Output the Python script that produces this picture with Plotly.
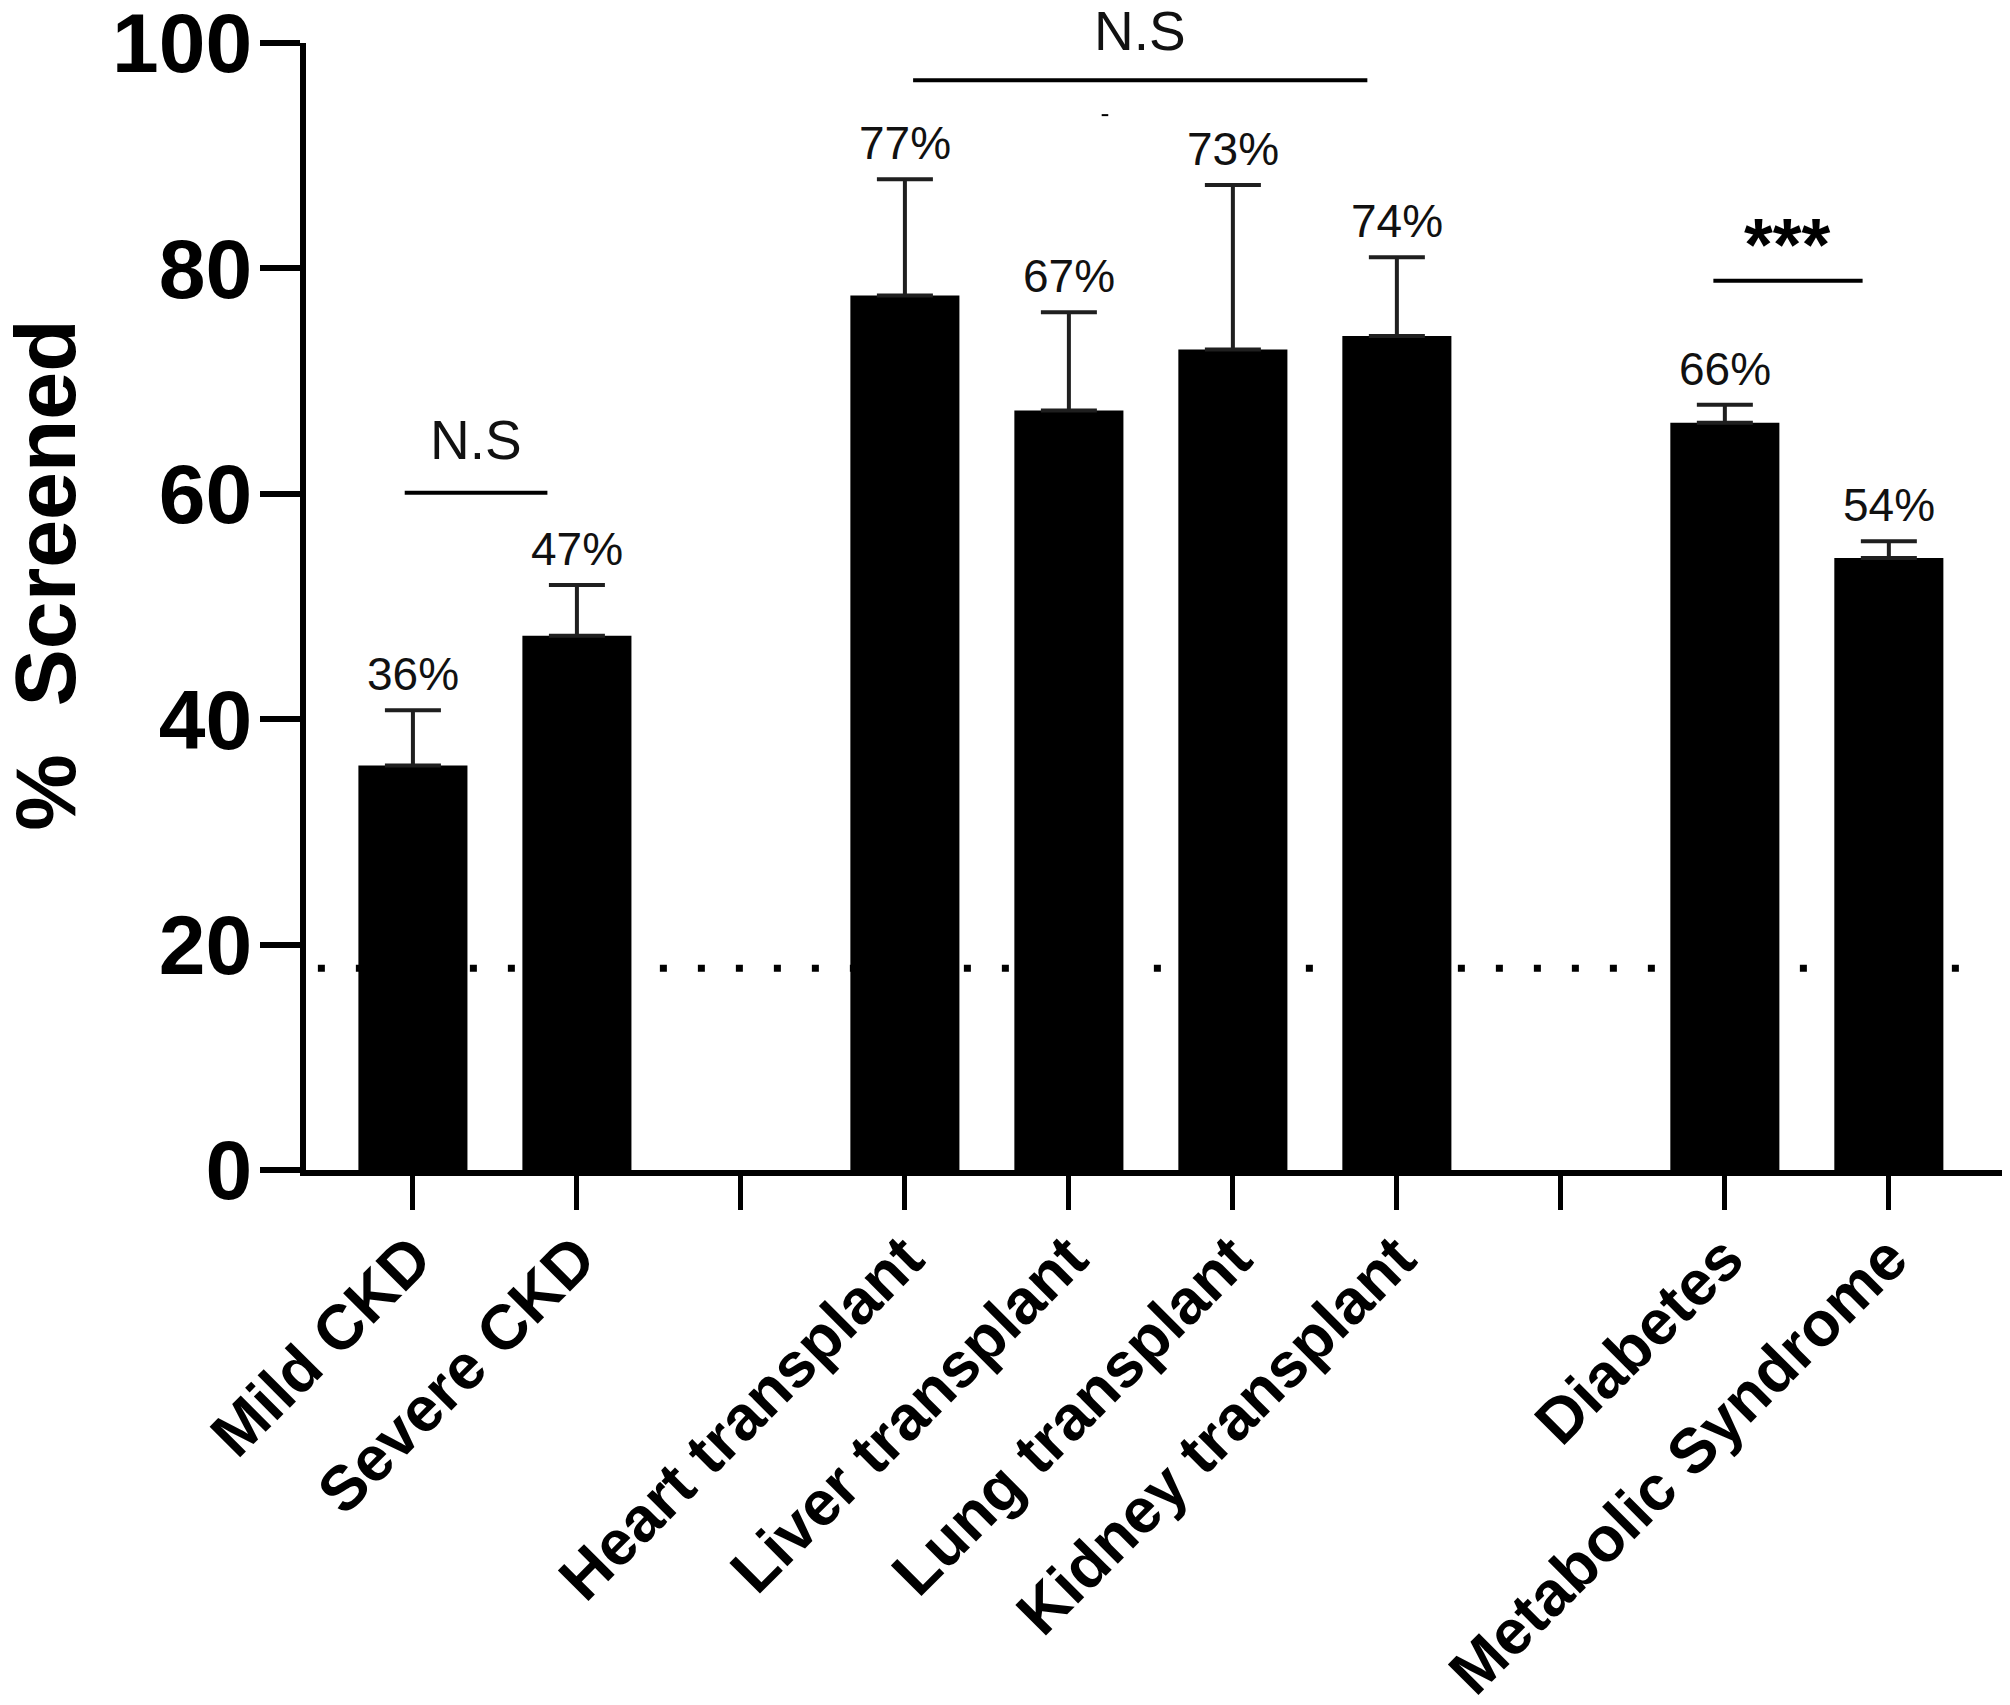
import plotly.graph_objects as go

# ---- data ----
tick_labels = ["Mild CKD", "Severe CKD", "", "Heart transplant", "Liver transplant",
               "Lung transplant", "Kidney transplant", "", "Diabetes", "Metabolic Syndrome"]
values = [35.9, 47.4, None, 77.6, 67.4, 72.8, 74.0, None, 66.3, 54.3]
errors = [4.9, 4.5, None, 10.3, 8.7, 14.6, 7.0, None, 1.6, 1.5]
pct_labels = ["36%", "47%", "", "77%", "67%", "73%", "74%", "", "66%", "54%"]
y_ticks = [0, 20, 40, 60, 80, 100]
reference_level = 17.9
# significance brackets
sig_start = [-0.05, 3.05, 7.93]
sig_end = [0.82, 5.82, 8.84]
sig_y = [60.1, 96.7, 78.9]
sig_text = ["N.S", "N.S", "***"]
sig_text_y = [62.0, 98.3, 80.0]

FONT = "Liberation Sans, Arial, sans-serif"
xpos = list(range(len(tick_labels)))

fig = go.Figure()
fig.add_trace(go.Bar(
    x=xpos, y=values,
    marker=dict(color="black", line=dict(width=0)),
    error_y=dict(type="data", array=errors, arrayminus=[0 if e is not None else None for e in errors],
                 symmetric=False, color="#1f1f1f", thickness=4, width=28),
    width=0.665,
    cliponaxis=False,
    showlegend=False,
))

annotations = []
for x, v, e, t in zip(xpos, values, errors, pct_labels):
    if v is None:
        continue
    annotations.append(dict(x=x, y=v + e, text=t, showarrow=False, xanchor="center",
                            yanchor="bottom", yshift=8,
                            font=dict(family=FONT, size=46, color="#111111")))

shapes = [dict(type="line", xref="paper", yref="y", x0=0.007, x1=0.977,
               y0=reference_level, y1=reference_level, layer="below",
               line=dict(color="black", width=7, dash="7px,31px"))]

for s, e, y, t, ty in zip(sig_start, sig_end, sig_y, sig_text, sig_text_y):
    shapes.append(dict(type="line", xref="x", yref="y", x0=s, x1=e, y0=y, y1=y,
                       line=dict(color="black", width=4)))
    if t == "***":
        annotations.append(dict(x=(s + e) / 2, y=ty, text=t, showarrow=False,
                                xanchor="center", yanchor="bottom", yshift=-20,
                                font=dict(family=FONT, size=74, color="black", weight="bold")))
    else:
        annotations.append(dict(x=(s + e) / 2, y=ty, text=t, showarrow=False,
                                xanchor="center", yanchor="bottom", yshift=-2,
                                font=dict(family=FONT, size=55, color="#111111")))

# small stray mark
shapes.append(dict(type="line", xref="x", yref="y", x0=4.2, x1=4.24, y0=93.6, y1=93.6,
                   line=dict(color="black", width=2)))

annotations.append(dict(xref="paper", yref="paper", x=-0.154, y=0.528, text="%  Screened",
                        textangle=-90, showarrow=False, xanchor="center", yanchor="middle",
                        font=dict(family=FONT, size=86, color="black", weight="bold")))

# the page body has an 8px margin, so the figure is sized/offset to compensate
fig.update_layout(
    width=2002, height=1697,
    margin=dict(l=298, r=8, t=35, b=535, autoexpand=False),
    plot_bgcolor="white", paper_bgcolor="white",
    bargap=0.335,
    xaxis=dict(range=[-0.652, 9.69], tickmode="array", tickvals=xpos, ticktext=tick_labels,
               tickangle=-45, showline=True, linecolor="black", linewidth=6,
               ticks="outside", ticklen=34, tickwidth=5, tickcolor="black",
               showgrid=False, zeroline=False, ticklabelstandoff=-14,
               tickfont=dict(family=FONT, size=63, color="black", weight="bold")),
    yaxis=dict(range=[0, 100], tickmode="array", tickvals=y_ticks,
               showline=True, linecolor="black", linewidth=6,
               ticks="outside", ticklen=40, tickwidth=6, tickcolor="black",
               showgrid=False, zeroline=False, ticklabeloverflow="allow",
               ticklabelstandoff=-9,
               tickfont=dict(family=FONT, size=84, color="black", weight="bold")),
    shapes=shapes, annotations=annotations,
)

fig.write_html("out.html")
